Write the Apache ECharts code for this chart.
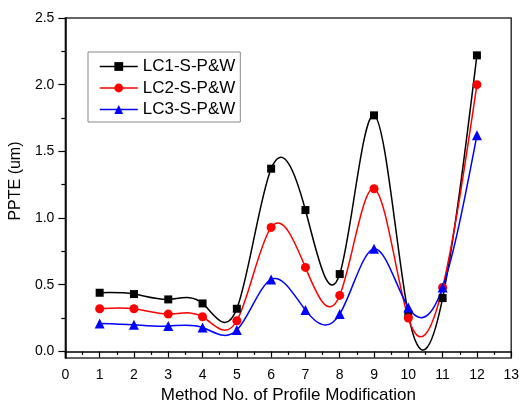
<!DOCTYPE html>
<html>
<head>
<meta charset="utf-8">
<script src="https://cdn.jsdelivr.net/npm/echarts@6/dist/echarts.min.js"></script>
<style>
  html, body { margin: 0; padding: 0; background: #fff; }
  #chart { width: 522px; height: 409px; }
</style>
</head>
<body>
<div id="chart"></div>
<script>
// 数据
const methods = [1, 2, 3, 4, 5, 6, 7, 8, 9, 10, 11, 12];
const lc1 = [0.44, 0.43, 0.39, 0.36, 0.32, 1.37, 1.06, 0.58, 1.77, 0.28, 0.40, 2.22];
const lc2 = [0.32, 0.32, 0.28, 0.26, 0.23, 0.93, 0.63, 0.42, 1.22, 0.25, 0.48, 2.00];
const lc3 = [0.21, 0.20, 0.19, 0.18, 0.16, 0.54, 0.31, 0.28, 0.77, 0.33, 0.48, 1.62];
const yTicks = [0, 0.5, 1.0, 1.5, 2.0, 2.5];
const yMinorTicks = [0.25, 0.75, 1.25, 1.75, 2.25];

const FONT = "'Liberation Sans', Arial, sans-serif";

// 自然三次样条的节点斜率（只用于画曲线）
function splineSlopes(xs, ys) {
  const n = xs.length;
  const M = new Array(n).fill(0);
  const a = [], b = [], c = [], d = [];
  for (let i = 1; i < n - 1; i++) {
    const h0 = xs[i] - xs[i - 1], h1 = xs[i + 1] - xs[i];
    a.push(h0); b.push(2 * (h0 + h1)); c.push(h1);
    d.push(6 * ((ys[i + 1] - ys[i]) / h1 - (ys[i] - ys[i - 1]) / h0));
  }
  const m = b.length;
  for (let i = 1; i < m; i++) {
    const w = a[i] / b[i - 1];
    b[i] -= w * c[i - 1];
    d[i] -= w * d[i - 1];
  }
  for (let i = m - 1; i >= 0; i--) {
    M[i + 1] = (d[i] - (i < m - 1 ? c[i] * M[i + 2] : 0)) / b[i];
  }
  const s = [];
  for (let i = 0; i < n - 1; i++) {
    const h = xs[i + 1] - xs[i];
    s.push((ys[i + 1] - ys[i]) / h - h * (2 * M[i] + M[i + 1]) / 6);
  }
  const h = xs[n - 1] - xs[n - 2];
  s.push((ys[n - 1] - ys[n - 2]) / h + h * (M[n - 2] + 2 * M[n - 1]) / 6);
  return s;
}

function curveSeries(values, color) {
  const slopes = splineSlopes(methods, values);
  return {
    type: 'custom',
    silent: true,
    z: 2,
    clip: true,
    data: methods.map((m, i) => [m, values[i]]),
    renderItem: (params, api) => {
      const i = params.dataIndex;
      if (i >= methods.length - 1) return null;
      const h = methods[i + 1] - methods[i];
      const p0 = api.coord([methods[i], values[i]]);
      const p1 = api.coord([methods[i] + h / 3, values[i] + slopes[i] * h / 3]);
      const p2 = api.coord([methods[i + 1] - h / 3, values[i + 1] - slopes[i + 1] * h / 3]);
      const p3 = api.coord([methods[i + 1], values[i + 1]]);
      return {
        type: 'bezierCurve',
        shape: {
          x1: p0[0], y1: p0[1], cpx1: p1[0], cpy1: p1[1],
          cpx2: p2[0], cpy2: p2[1], x2: p3[0], y2: p3[1]
        },
        style: { stroke: color, lineWidth: 1.5, fill: null }
      };
    }
  };
}

function markerSeries(name, values, color, symbol, size) {
  return {
    name: name,
    type: 'line',
    z: 3,
    data: methods.map((m, i) => [m, values[i]]),
    symbol: symbol,
    symbolSize: size,
    showSymbol: true,
    itemStyle: { color: color },
    lineStyle: { color: color, width: 1.5, opacity: 0 }
  };
}

const chart = echarts.init(document.getElementById('chart'));

chart.setOption({
  animation: false,
  backgroundColor: '#fff',
  textStyle: { fontFamily: FONT },
  grid: {
    left: 57, right: 10, top: 18, bottom: 40,
    show: true, borderColor: '#333', borderWidth: 1.5, backgroundColor: 'transparent'
  },
  legend: {
    orient: 'vertical',
    left: 88, top: 52,
    itemWidth: 38, itemHeight: 11, itemGap: 4.5,
    padding: [6, 5, 4, 11],
    borderColor: '#888', borderWidth: 1,
    textStyle: { fontSize: 17, color: '#000', fontFamily: FONT },
    data: [
      { name: 'LC1-S-P&W', lineStyle: { color: '#000', width: 1.5, opacity: 1 } },
      { name: 'LC2-S-P&W', lineStyle: { color: '#ff0000', width: 1.5, opacity: 1 } },
      { name: 'LC3-S-P&W', lineStyle: { color: '#0000ff', width: 1.5, opacity: 1 } }
    ]
  },
  xAxis: {
    type: 'value',
    min: 0, max: 13, interval: 1,
    name: 'Method No. of Profile Modification',
    nameLocation: 'middle', nameGap: 22,
    nameTextStyle: { fontSize: 17, color: '#000', fontFamily: FONT },
    axisLine: { lineStyle: { color: '#000', width: 1.5 } },
    axisTick: { show: true, inside: false, length: 6, lineStyle: { color: '#000', width: 1.2 } },
    minorTick: { show: true, splitNumber: 2, length: 3.5, lineStyle: { color: '#000', width: 1.2 } },
    axisLabel: { fontSize: 14, color: '#000', margin: 10, fontFamily: FONT },
    splitLine: { show: false }
  },
  yAxis: [
    {
      type: 'value',
      min: -0.05, max: 2.5,
      name: 'PPTE (um)',
      nameLocation: 'middle', nameGap: 27, nameRotate: 90,
      nameTextStyle: { fontSize: 16, color: '#000', fontFamily: FONT, padding: [0, 0, 0, 14] },
      axisLine: { show: true, lineStyle: { color: '#000', width: 1.5 } },
      axisTick: { show: true, inside: false, length: 7, customValues: yTicks, lineStyle: { color: '#000', width: 1.2 } },
      axisLabel: {
        fontSize: 14, color: '#000', margin: 11, fontFamily: FONT,
        customValues: yTicks,
        formatter: (v) => v.toFixed(1)
      },
      splitLine: { show: false }
    },
    {
      type: 'value',
      min: -0.05, max: 2.5,
      position: 'left',
      axisLine: { show: false },
      axisTick: { show: true, inside: false, length: 4, customValues: yMinorTicks, lineStyle: { color: '#000', width: 1.2 } },
      axisLabel: { show: false },
      splitLine: { show: false }
    }
  ],
  series: [
    curveSeries(lc1, '#000'),
    curveSeries(lc2, '#ff0000'),
    curveSeries(lc3, '#0000ff'),
    markerSeries('LC1-S-P&W', lc1, '#000', 'rect', 8),
    markerSeries('LC2-S-P&W', lc2, '#ff0000', 'circle', 9),
    markerSeries('LC3-S-P&W', lc3, '#0000ff', 'triangle', 10)
  ]
});
</script>
</body>
</html>
